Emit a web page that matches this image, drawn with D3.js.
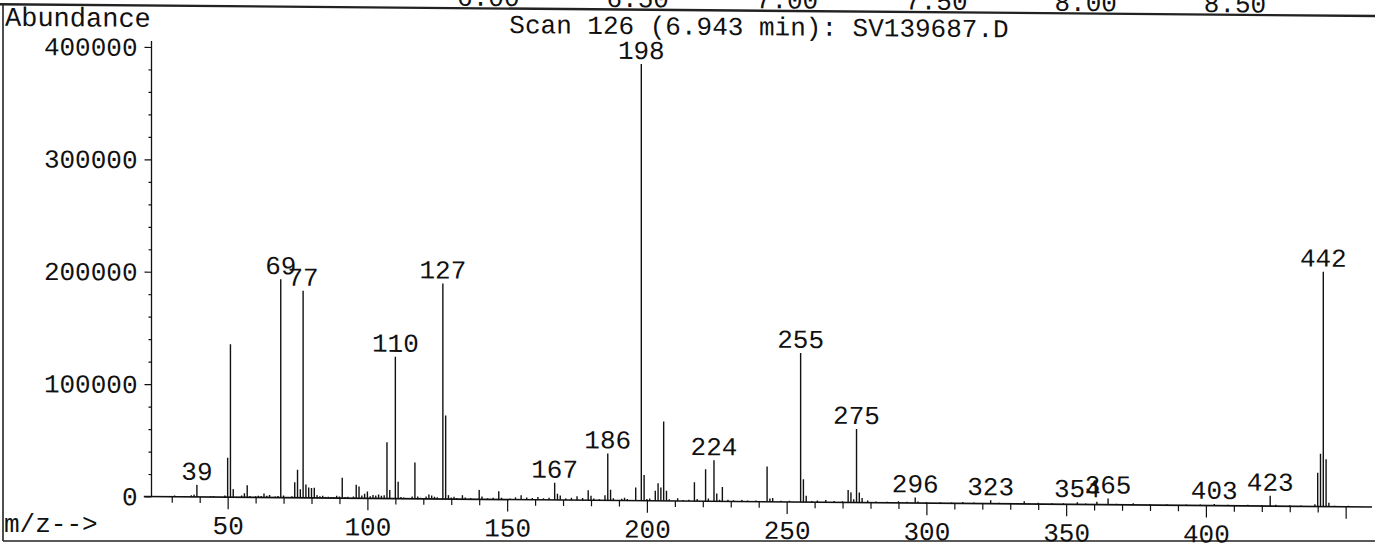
<!DOCTYPE html>
<html><head><meta charset="utf-8">
<script src="https://cdn.jsdelivr.net/npm/d3@7/dist/d3.min.js"></script>
<style>
html,body{margin:0;padding:0;background:#fff;}
svg{display:block;}
text{font-family:"Liberation Mono","DejaVu Sans Mono",monospace;fill:#111;}
</style></head><body>
<svg id="chart" width="1375" height="544"></svg>
<script>
// ---- data ----
const titleText = "Scan 126 (6.943 min): SV139687.D";
const yTitle = "Abundance";
const xTitle = "m/z-->";

const peakMz = [31,37,38,39,44,45,49,50,51,52,55,56,57,58,60,61,62,63,64,65,67,68,69,70,73,74,75,76,77,78,79,80,81,82,83,84,85,86,87,88,89,90,91,92,93,95,96,97,98,99,100,101,102,103,104,105,106,107,108,110,111,112,113,116,117,118,119,121,122,123,124,125,127,128,129,130,131,132,134,135,137,140,141,143,145,147,148,151,153,155,157,159,161,163,165,167,168,169,171,173,175,177,179,180,181,183,185,186,187,188,191,192,193,196,198,199,200,201,203,204,205,206,207,208,211,213,215,217,218,221,222,224,225,226,227,229,231,234,236,239,243,244,245,248,251,255,256,257,259,261,264,267,270,272,273,274,275,276,277,279,282,286,290,293,296,297,300,305,309,313,317,323,326,330,335,340,345,349,354,357,361,365,368,374,380,386,393,398,403,408,415,420,423,425,430,434,439,440,441,442,443,444,446,451];
const peakAbundance = [1000,1500,2000,10700,800,1000,1500,35000,136200,7200,1500,3600,10700,1200,1000,1500,1200,3600,1500,2200,1000,1500,194400,2000,1200,13800,25000,7500,184200,11800,9300,8700,9000,2500,1500,2000,1000,1200,1000,1000,2000,1500,18200,1000,1200,1500,12000,10500,2500,4000,6000,2000,3000,2500,3500,2500,3000,50000,7700,126200,15100,1500,1000,2000,32300,2000,1000,2000,3800,3000,2000,1500,191800,74400,3500,1500,2000,1000,3500,1500,1000,8400,2500,1000,1500,7400,1500,1000,2000,4000,2000,1500,2500,1500,2000,15300,5500,4000,1500,2000,3500,2000,9000,4000,1500,1000,4500,41800,9500,2000,1500,2500,1500,11700,388600,22800,1500,2000,8900,15600,12000,70600,9000,1500,2500,1000,1200,16900,2000,28400,2500,36500,7000,1500,12900,1500,1000,1500,1000,1000,31400,3000,3500,1000,1000,132700,20400,5600,1000,1500,2000,1200,1000,11000,9000,3000,65400,9000,4000,2000,1000,1000,1500,1000,5000,1500,1000,1000,800,1200,1000,3000,1000,800,2500,1200,800,1000,2000,800,2500,5600,1000,1500,800,800,800,800,1500,800,1000,1000,9200,1200,800,800,2000,30000,47000,209000,42000,3500,800,800];
const labeledMz = [39,69,77,110,127,167,186,198,224,255,275,296,323,354,365,403,423,442];

const yMajorTicks = [0,100000,200000,300000,400000];
const yMinorTicks = [20000,40000,60000,80000,120000,140000,160000,180000,220000,240000,260000,280000,320000,340000,360000,380000];
const xMajorTicks = [50,100,150,200,250,300,350,400,450];
const xTickLabels = ["50","100","150","200","250","300","350","400",""];
const xMinorTicks = [30,40,60,70,80,90,110,120,130,140,160,170,180,190,210,220,230,240,260,270,280,290,310,320,330,340,360,370,380,390,410,420,430,440];
const timeTickValues = [6.0,6.5,7.0,7.5,8.0,8.5];
const timeTickLabels = ["6.00","6.50","7.00","7.50","8.00","8.50"];

// ---- drawing ----
const peaks = peakMz.map((m,i)=>({mz:m, v:peakAbundance[i]}));
const byMz = new Map(peaks.map(p=>[p.mz,p]));
const labels = labeledMz.map(m=>byMz.get(m));

const svg = d3.select("#chart");
const x = d3.scaleLinear().domain([20,460]).range([143.8,1373.6]);
const y = d3.scaleLinear().domain([0,400000]).range([496.5,47]);
const tScale = d3.scaleLinear().domain([7.0,8.5]).range([787,1235]);
const axisX0 = 151.5;
const FS = 26;

// frame (unskewed parts)
svg.append("line").attr("x1",3).attr("x2",3).attr("y1",5).attr("y2",541)
  .attr("stroke","#222").attr("stroke-width",1.6);
svg.append("line").attr("x1",3).attr("x2",1375).attr("y1",541).attr("y2",541)
  .attr("stroke","#222").attr("stroke-width",1.6);

// the scanned page is slightly sheared
const g = svg.append("g").attr("transform",`translate(150,0) skewY(0.49) translate(-150,0)`);

g.append("line").attr("x1",0).attr("x2",1375).attr("y1",5.5).attr("y2",5.5)
  .attr("stroke","#222").attr("stroke-width",2.4);

g.selectAll("text.time").data(timeTickValues).join("text").attr("class","time")
  .attr("x",d=>tScale(d)).attr("y",3).attr("text-anchor","middle")
  .attr("font-size",FS).text((d,i)=>timeTickLabels[i]);

// titles
g.append("text").attr("x",5).attr("y",27).attr("font-size",27).text(yTitle);
g.append("text").attr("x",759).attr("y",30).attr("text-anchor","middle").attr("font-size",FS).text(titleText);
svg.append("text").attr("x",4).attr("y",532).attr("font-size",FS).text(xTitle);

// y axis
const yMinor = g.append("g").attr("transform",`translate(${axisX0},0)`)
  .call(d3.axisLeft(y).tickValues(yMinorTicks).tickSize(3).tickSizeOuter(0).tickFormat(""));
yMinor.select(".domain").remove();
const yMaj = g.append("g").attr("transform",`translate(${axisX0},0)`)
  .call(d3.axisLeft(y).tickValues(yMajorTicks).tickSize(7).tickSizeOuter(0).tickFormat(d3.format("d")));
yMaj.select(".domain").remove();
yMaj.selectAll("text").attr("x",-14).attr("dy","0.33em").attr("font-size",FS)
  .attr("font-family",null).style("fill","#111");
g.append("line").attr("x1",axisX0).attr("x2",axisX0).attr("y1",y(0)).attr("y2",41)
  .attr("stroke","#111").attr("stroke-width",1.3);

// x axis
const xMin = g.append("g").attr("transform",`translate(0,${y(0)})`)
  .call(d3.axisBottom(x).tickValues(xMinorTicks).tickSize(6).tickSizeOuter(0).tickFormat(""));
xMin.select(".domain").remove();
const xMaj = g.append("g").attr("transform",`translate(0,${y(0)})`)
  .call(d3.axisBottom(x).tickValues(xMajorTicks).tickSize(12).tickSizeOuter(0).tickFormat((d,i)=>xTickLabels[i]));
xMaj.select(".domain").remove();
xMaj.selectAll("text").attr("y",37).attr("dy","0").attr("font-size",FS)
  .attr("font-family",null).style("fill","#111");
g.selectAll(".tick line").attr("stroke","#111").attr("stroke-width",1.2);
g.append("line").attr("x1",x(20)).attr("x2",1372).attr("y1",y(0)).attr("y2",y(0))
  .attr("stroke","#111").attr("stroke-width",1.6);

// peaks
g.selectAll("line.peak").data(peaks).join("line").attr("class","peak")
  .attr("x1",d=>x(d.mz)).attr("x2",d=>x(d.mz))
  .attr("y1",y(0)).attr("y2",d=>y(d.v))
  .attr("stroke","#111").attr("stroke-width",1.4);

// peak labels
g.selectAll("text.plabel").data(labels).join("text").attr("class","plabel")
  .attr("x",d=>x(d.mz)).attr("y",d=>y(d.v)-5)
  .attr("text-anchor","middle").attr("font-size",FS).text(d=>d.mz);
</script>
</body></html>
